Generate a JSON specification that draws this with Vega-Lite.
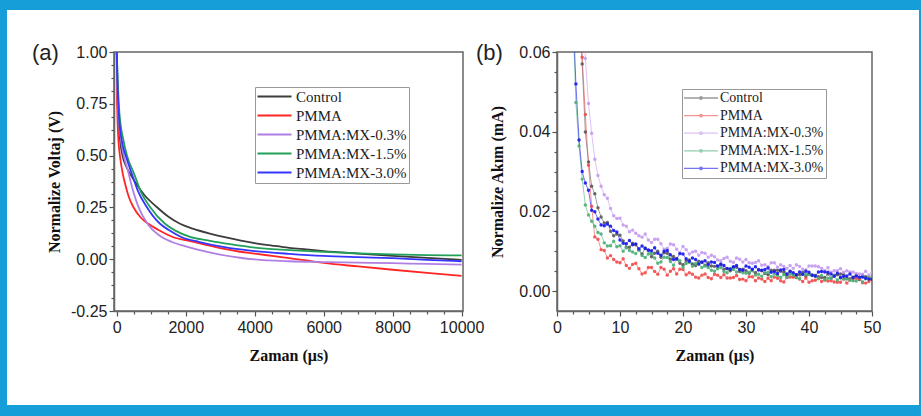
{
"$schema": "https://vega.github.io/schema/vega-lite/v6.json",
"background": "white",
"padding": 0,
"config": {
  "font": "Liberation Sans",
  "axis": {"grid": false, "labelFont": "Liberation Sans", "labelFontSize": 16, "labelColor": "#222", "titleFont": "Liberation Serif", "titleFontSize": 16, "titleFontWeight": "bold", "titleColor": "#111", "tickColor": "#555", "tickWidth": 1.2, "domainColor": "#666", "domainWidth": 1.5, "labelOverlap": false, "labelFlush": false},
  "legend": {"labelFont": "Liberation Serif", "labelColor": "#222", "strokeColor": "#999", "fillColor": "white", "padding": 2, "symbolSize": 100, "title": null}
},
"datasets": {
"a": [
{"s":"C","t":0,"v":1},{"s":"C","t":15,"v":0.8},{"s":"C","t":40,"v":0.7},{"s":"C","t":96,"v":0.574},{"s":"C","t":174,"v":0.494},{"s":"C","t":280,"v":0.445},{"s":"C","t":385,"v":0.413},{"s":"C","t":560,"v":0.365},{"s":"C","t":800,"v":0.31},{"s":"C","t":1160,"v":0.252},{"s":"C","t":1500,"v":0.205},{"s":"C","t":1835,"v":0.171},{"s":"C","t":2200,"v":0.148},{"s":"C","t":2700,"v":0.124},{"s":"C","t":3200,"v":0.104},{"s":"C","t":3600,"v":0.09},{"s":"C","t":4000,"v":0.078},{"s":"C","t":4500,"v":0.066},{"s":"C","t":5000,"v":0.055},{"s":"C","t":5500,"v":0.047},{"s":"C","t":6000,"v":0.039},{"s":"C","t":7000,"v":0.027},{"s":"C","t":8000,"v":0.016},{"s":"C","t":9000,"v":0.006},{"s":"C","t":10000,"v":-0.003},
{"s":"P","t":0,"v":1},{"s":"P","t":10,"v":0.78},{"s":"P","t":25,"v":0.66},{"s":"P","t":48,"v":0.574},{"s":"P","t":96,"v":0.494},{"s":"P","t":174,"v":0.413},{"s":"P","t":240,"v":0.365},{"s":"P","t":350,"v":0.3},{"s":"P","t":481,"v":0.252},{"s":"P","t":700,"v":0.2},{"s":"P","t":916,"v":0.171},{"s":"P","t":1200,"v":0.142},{"s":"P","t":1640,"v":0.106},{"s":"P","t":2000,"v":0.092},{"s":"P","t":2500,"v":0.073},{"s":"P","t":3000,"v":0.053},{"s":"P","t":3574,"v":0.036},{"s":"P","t":4000,"v":0.027},{"s":"P","t":4500,"v":0.016},{"s":"P","t":5000,"v":0.005},{"s":"P","t":5500,"v":-0.006},{"s":"P","t":6000,"v":-0.018},{"s":"P","t":7000,"v":-0.035},{"s":"P","t":8000,"v":-0.051},{"s":"P","t":9000,"v":-0.066},{"s":"P","t":10000,"v":-0.08},
{"s":"M03","t":0,"v":1},{"s":"M03","t":15,"v":0.84},{"s":"M03","t":50,"v":0.7},{"s":"M03","t":125,"v":0.574},{"s":"M03","t":212,"v":0.494},{"s":"M03","t":337,"v":0.42},{"s":"M03","t":405,"v":0.372},{"s":"M03","t":500,"v":0.315},{"s":"M03","t":626,"v":0.254},{"s":"M03","t":887,"v":0.172},{"s":"M03","t":1255,"v":0.112},{"s":"M03","t":1600,"v":0.083},{"s":"M03","t":2000,"v":0.062},{"s":"M03","t":2500,"v":0.04},{"s":"M03","t":3000,"v":0.022},{"s":"M03","t":3574,"v":0.007},{"s":"M03","t":4000,"v":-0.001},{"s":"M03","t":5000,"v":-0.01},{"s":"M03","t":6000,"v":-0.014},{"s":"M03","t":7000,"v":-0.017},{"s":"M03","t":8000,"v":-0.019},{"s":"M03","t":9000,"v":-0.023},{"s":"M03","t":10000,"v":-0.026},
{"s":"M15","t":0,"v":1},{"s":"M15","t":25,"v":0.88},{"s":"M15","t":70,"v":0.72},{"s":"M15","t":193,"v":0.574},{"s":"M15","t":307,"v":0.494},{"s":"M15","t":501,"v":0.413},{"s":"M15","t":700,"v":0.325},{"s":"M15","t":965,"v":0.252},{"s":"M15","t":1400,"v":0.171},{"s":"M15","t":1700,"v":0.138},{"s":"M15","t":2125,"v":0.108},{"s":"M15","t":2600,"v":0.092},{"s":"M15","t":3000,"v":0.08},{"s":"M15","t":3574,"v":0.066},{"s":"M15","t":4000,"v":0.056},{"s":"M15","t":5000,"v":0.044},{"s":"M15","t":6000,"v":0.035},{"s":"M15","t":7000,"v":0.028},{"s":"M15","t":8000,"v":0.023},{"s":"M15","t":9000,"v":0.02},{"s":"M15","t":10000,"v":0.018},
{"s":"M30","t":0,"v":1},{"s":"M30","t":20,"v":0.86},{"s":"M30","t":60,"v":0.7},{"s":"M30","t":145,"v":0.574},{"s":"M30","t":270,"v":0.494},{"s":"M30","t":435,"v":0.413},{"s":"M30","t":600,"v":0.335},{"s":"M30","t":870,"v":0.252},{"s":"M30","t":1255,"v":0.171},{"s":"M30","t":1500,"v":0.142},{"s":"M30","t":1884,"v":0.106},{"s":"M30","t":2400,"v":0.083},{"s":"M30","t":3000,"v":0.062},{"s":"M30","t":3574,"v":0.047},{"s":"M30","t":4000,"v":0.039},{"s":"M30","t":5000,"v":0.026},{"s":"M30","t":6000,"v":0.016},{"s":"M30","t":7000,"v":0.01},{"s":"M30","t":8000,"v":0.005},{"s":"M30","t":9000,"v":-0.003},{"s":"M30","t":10000,"v":-0.01}
],
"b": [
{"s":"C","t":2.5,"v":0.1096},{"s":"C","t":3,"v":0.0893},{"s":"C","t":3.5,"v":0.0746},{"s":"C","t":4,"v":0.057},{"s":"C","t":4.5,"v":0.0399},{"s":"C","t":5,"v":0.0324},{"s":"C","t":5.5,"v":0.0263},{"s":"C","t":6,"v":0.0244},{"s":"C","t":6.5,"v":0.0209},{"s":"C","t":7,"v":0.0186},{"s":"C","t":7.5,"v":0.0171},{"s":"C","t":8,"v":0.0172},
{"s":"C","t":8.5,"v":0.015},{"s":"C","t":9,"v":0.0139},{"s":"C","t":9.5,"v":0.0143},{"s":"C","t":10,"v":0.014},{"s":"C","t":10.5,"v":0.0126},{"s":"C","t":11,"v":0.011},{"s":"C","t":11.5,"v":0.011},{"s":"C","t":12,"v":0.012},{"s":"C","t":12.5,"v":0.0116},{"s":"C","t":13,"v":0.0104},{"s":"C","t":13.5,"v":0.0093},{"s":"C","t":14,"v":0.0108},
{"s":"C","t":14.5,"v":0.0102},{"s":"C","t":15,"v":0.0086},{"s":"C","t":15.5,"v":0.0095},{"s":"C","t":16,"v":0.01},{"s":"C","t":16.5,"v":0.0085},{"s":"C","t":17,"v":0.0096},{"s":"C","t":17.5,"v":0.0095},{"s":"C","t":18,"v":0.008},{"s":"C","t":18.5,"v":0.0087},{"s":"C","t":19,"v":0.008},{"s":"C","t":19.5,"v":0.007},{"s":"C","t":20,"v":0.0066},
{"s":"C","t":20.5,"v":0.0076},{"s":"C","t":21,"v":0.0078},{"s":"C","t":21.5,"v":0.0068},{"s":"C","t":22,"v":0.0064},{"s":"C","t":22.5,"v":0.0075},{"s":"C","t":23,"v":0.0072},{"s":"C","t":23.5,"v":0.0065},{"s":"C","t":24,"v":0.0071},{"s":"C","t":24.5,"v":0.0063},{"s":"C","t":25,"v":0.0062},{"s":"C","t":25.5,"v":0.0062},{"s":"C","t":26,"v":0.0066},
{"s":"C","t":26.5,"v":0.0055},{"s":"C","t":27,"v":0.0056},{"s":"C","t":27.5,"v":0.0051},{"s":"C","t":28,"v":0.006},{"s":"C","t":28.5,"v":0.006},{"s":"C","t":29,"v":0.0049},{"s":"C","t":29.5,"v":0.0055},{"s":"C","t":30,"v":0.0051},{"s":"C","t":30.5,"v":0.0045},{"s":"C","t":31,"v":0.0053},{"s":"C","t":31.5,"v":0.0046},{"s":"C","t":32,"v":0.0054},
{"s":"C","t":32.5,"v":0.0051},{"s":"C","t":33,"v":0.0044},{"s":"C","t":33.5,"v":0.0041},{"s":"C","t":34,"v":0.0052},{"s":"C","t":34.5,"v":0.0052},{"s":"C","t":35,"v":0.0052},{"s":"C","t":35.5,"v":0.005},{"s":"C","t":36,"v":0.0047},{"s":"C","t":36.5,"v":0.004},{"s":"C","t":37,"v":0.0049},{"s":"C","t":37.5,"v":0.0037},{"s":"C","t":38,"v":0.0041},
{"s":"C","t":38.5,"v":0.0041},{"s":"C","t":39,"v":0.0047},{"s":"C","t":39.5,"v":0.0037},{"s":"C","t":40,"v":0.0042},{"s":"C","t":40.5,"v":0.0039},{"s":"C","t":41,"v":0.0039},{"s":"C","t":41.5,"v":0.0036},{"s":"C","t":42,"v":0.0034},{"s":"C","t":42.5,"v":0.0034},{"s":"C","t":43,"v":0.0043},{"s":"C","t":43.5,"v":0.0032},{"s":"C","t":44,"v":0.004},
{"s":"C","t":44.5,"v":0.0041},{"s":"C","t":45,"v":0.0043},{"s":"C","t":45.5,"v":0.0042},{"s":"C","t":46,"v":0.0032},{"s":"C","t":46.5,"v":0.0031},{"s":"C","t":47,"v":0.0035},{"s":"C","t":47.5,"v":0.004},{"s":"C","t":48,"v":0.0029},{"s":"C","t":48.5,"v":0.004},{"s":"C","t":49,"v":0.0036},{"s":"C","t":49.5,"v":0.0035},{"s":"C","t":50,"v":0.0029},
{"s":"P","t":2.5,"v":0.1101},{"s":"P","t":3,"v":0.091},{"s":"P","t":3.5,"v":0.0763},{"s":"P","t":4,"v":0.0587},{"s":"P","t":4.5,"v":0.0443},{"s":"P","t":5,"v":0.0316},{"s":"P","t":5.5,"v":0.0213},{"s":"P","t":6,"v":0.0136},{"s":"P","t":6.5,"v":0.013},{"s":"P","t":7,"v":0.0104},{"s":"P","t":7.5,"v":0.0102},{"s":"P","t":8,"v":0.0083},
{"s":"P","t":8.5,"v":0.0089},{"s":"P","t":9,"v":0.0079},{"s":"P","t":9.5,"v":0.0073},{"s":"P","t":10,"v":0.0071},{"s":"P","t":10.5,"v":0.0081},{"s":"P","t":11,"v":0.0064},{"s":"P","t":11.5,"v":0.0057},{"s":"P","t":12,"v":0.0067},{"s":"P","t":12.5,"v":0.007},{"s":"P","t":13,"v":0.0056},{"s":"P","t":13.5,"v":0.0043},{"s":"P","t":14,"v":0.0046},
{"s":"P","t":14.5,"v":0.0059},{"s":"P","t":15,"v":0.0059},{"s":"P","t":15.5,"v":0.0049},{"s":"P","t":16,"v":0.0042},{"s":"P","t":16.5,"v":0.0059},{"s":"P","t":17,"v":0.0055},{"s":"P","t":17.5,"v":0.004},{"s":"P","t":18,"v":0.005},{"s":"P","t":18.5,"v":0.0056},{"s":"P","t":19,"v":0.0043},{"s":"P","t":19.5,"v":0.0055},{"s":"P","t":20,"v":0.0054},
{"s":"P","t":20.5,"v":0.0041},{"s":"P","t":21,"v":0.0046},{"s":"P","t":21.5,"v":0.0042},{"s":"P","t":22,"v":0.0035},{"s":"P","t":22.5,"v":0.0033},{"s":"P","t":23,"v":0.004},{"s":"P","t":23.5,"v":0.0043},{"s":"P","t":24,"v":0.0034},{"s":"P","t":24.5,"v":0.0031},{"s":"P","t":25,"v":0.0042},{"s":"P","t":25.5,"v":0.004},{"s":"P","t":26,"v":0.0034},
{"s":"P","t":26.5,"v":0.0041},{"s":"P","t":27,"v":0.0033},{"s":"P","t":27.5,"v":0.0033},{"s":"P","t":28,"v":0.0034},{"s":"P","t":28.5,"v":0.0039},{"s":"P","t":29,"v":0.0029},{"s":"P","t":29.5,"v":0.003},{"s":"P","t":30,"v":0.0026},{"s":"P","t":30.5,"v":0.0036},{"s":"P","t":31,"v":0.0036},{"s":"P","t":31.5,"v":0.0026},{"s":"P","t":32,"v":0.0033},
{"s":"P","t":32.5,"v":0.003},{"s":"P","t":33,"v":0.0024},{"s":"P","t":33.5,"v":0.0032},{"s":"P","t":34,"v":0.0026},{"s":"P","t":34.5,"v":0.0035},{"s":"P","t":35,"v":0.0032},{"s":"P","t":35.5,"v":0.0026},{"s":"P","t":36,"v":0.0023},{"s":"P","t":36.5,"v":0.0034},{"s":"P","t":37,"v":0.0035},{"s":"P","t":37.5,"v":0.0035},{"s":"P","t":38,"v":0.0034},
{"s":"P","t":38.5,"v":0.003},{"s":"P","t":39,"v":0.0024},{"s":"P","t":39.5,"v":0.0033},{"s":"P","t":40,"v":0.0022},{"s":"P","t":40.5,"v":0.0026},{"s":"P","t":41,"v":0.0027},{"s":"P","t":41.5,"v":0.0033},{"s":"P","t":42,"v":0.0024},{"s":"P","t":42.5,"v":0.0028},{"s":"P","t":43,"v":0.0025},{"s":"P","t":43.5,"v":0.0026},{"s":"P","t":44,"v":0.0023},
{"s":"P","t":44.5,"v":0.0022},{"s":"P","t":45,"v":0.0022},{"s":"P","t":45.5,"v":0.0031},{"s":"P","t":46,"v":0.002},{"s":"P","t":46.5,"v":0.0028},{"s":"P","t":47,"v":0.003},{"s":"P","t":47.5,"v":0.0032},{"s":"P","t":48,"v":0.0031},{"s":"P","t":48.5,"v":0.0021},{"s":"P","t":49,"v":0.002},{"s":"P","t":49.5,"v":0.0024},{"s":"P","t":50,"v":0.003},
{"s":"M03","t":2.5,"v":0.129},{"s":"M03","t":3,"v":0.1101},{"s":"M03","t":3.5,"v":0.0963},{"s":"M03","t":4,"v":0.0743},{"s":"M03","t":4.5,"v":0.0584},{"s":"M03","t":5,"v":0.0471},{"s":"M03","t":5.5,"v":0.0396},{"s":"M03","t":6,"v":0.0331},{"s":"M03","t":6.5,"v":0.029},{"s":"M03","t":7,"v":0.0263},{"s":"M03","t":7.5,"v":0.0242},{"s":"M03","t":8,"v":0.0233},
{"s":"M03","t":8.5,"v":0.0207},{"s":"M03","t":9,"v":0.0189},{"s":"M03","t":9.5,"v":0.0182},{"s":"M03","t":10,"v":0.0183},{"s":"M03","t":10.5,"v":0.0166},{"s":"M03","t":11,"v":0.0163},{"s":"M03","t":11.5,"v":0.0149},{"s":"M03","t":12,"v":0.0153},{"s":"M03","t":12.5,"v":0.0145},{"s":"M03","t":13,"v":0.0139},{"s":"M03","t":13.5,"v":0.0135},{"s":"M03","t":14,"v":0.0143},
{"s":"M03","t":14.5,"v":0.0128},{"s":"M03","t":15,"v":0.0122},{"s":"M03","t":15.5,"v":0.013},{"s":"M03","t":16,"v":0.013},{"s":"M03","t":16.5,"v":0.0119},{"s":"M03","t":17,"v":0.0105},{"s":"M03","t":17.5,"v":0.0107},{"s":"M03","t":18,"v":0.0118},{"s":"M03","t":18.5,"v":0.0116},{"s":"M03","t":19,"v":0.0105},{"s":"M03","t":19.5,"v":0.0096},{"s":"M03","t":20,"v":0.0112},
{"s":"M03","t":20.5,"v":0.0104},{"s":"M03","t":21,"v":0.0093},{"s":"M03","t":21.5,"v":0.0098},{"s":"M03","t":22,"v":0.01},{"s":"M03","t":22.5,"v":0.009},{"s":"M03","t":23,"v":0.0097},{"s":"M03","t":23.5,"v":0.0095},{"s":"M03","t":24,"v":0.0085},{"s":"M03","t":24.5,"v":0.009},{"s":"M03","t":25,"v":0.0086},{"s":"M03","t":25.5,"v":0.0078},{"s":"M03","t":26,"v":0.0076},
{"s":"M03","t":26.5,"v":0.0082},{"s":"M03","t":27,"v":0.0085},{"s":"M03","t":27.5,"v":0.0075},{"s":"M03","t":28,"v":0.0072},{"s":"M03","t":28.5,"v":0.0083},{"s":"M03","t":29,"v":0.008},{"s":"M03","t":29.5,"v":0.0073},{"s":"M03","t":30,"v":0.0079},{"s":"M03","t":30.5,"v":0.0071},{"s":"M03","t":31,"v":0.007},{"s":"M03","t":31.5,"v":0.0072},{"s":"M03","t":32,"v":0.0076},
{"s":"M03","t":32.5,"v":0.0065},{"s":"M03","t":33,"v":0.0066},{"s":"M03","t":33.5,"v":0.0061},{"s":"M03","t":34,"v":0.0071},{"s":"M03","t":34.5,"v":0.0071},{"s":"M03","t":35,"v":0.006},{"s":"M03","t":35.5,"v":0.0066},{"s":"M03","t":36,"v":0.0062},{"s":"M03","t":36.5,"v":0.0057},{"s":"M03","t":37,"v":0.0064},{"s":"M03","t":37.5,"v":0.0057},{"s":"M03","t":38,"v":0.0066},
{"s":"M03","t":38.5,"v":0.0062},{"s":"M03","t":39,"v":0.0055},{"s":"M03","t":39.5,"v":0.0053},{"s":"M03","t":40,"v":0.0063},{"s":"M03","t":40.5,"v":0.0063},{"s":"M03","t":41,"v":0.0063},{"s":"M03","t":41.5,"v":0.0061},{"s":"M03","t":42,"v":0.0057},{"s":"M03","t":42.5,"v":0.0051},{"s":"M03","t":43,"v":0.0059},{"s":"M03","t":43.5,"v":0.0047},{"s":"M03","t":44,"v":0.0051},
{"s":"M03","t":44.5,"v":0.0051},{"s":"M03","t":45,"v":0.0056},{"s":"M03","t":45.5,"v":0.0047},{"s":"M03","t":46,"v":0.0051},{"s":"M03","t":46.5,"v":0.0048},{"s":"M03","t":47,"v":0.0048},{"s":"M03","t":47.5,"v":0.0044},{"s":"M03","t":48,"v":0.0043},{"s":"M03","t":48.5,"v":0.0042},{"s":"M03","t":49,"v":0.005},{"s":"M03","t":49.5,"v":0.004},{"s":"M03","t":50,"v":0.0047},
{"s":"M15","t":2.5,"v":0.0713},{"s":"M15","t":3,"v":0.0473},{"s":"M15","t":3.5,"v":0.0364},{"s":"M15","t":4,"v":0.0281},{"s":"M15","t":4.5,"v":0.0216},{"s":"M15","t":5,"v":0.0191},{"s":"M15","t":5.5,"v":0.0175},{"s":"M15","t":6,"v":0.0163},{"s":"M15","t":6.5,"v":0.0147},{"s":"M15","t":7,"v":0.0143},{"s":"M15","t":7.5,"v":0.0121},{"s":"M15","t":8,"v":0.0113},
{"s":"M15","t":8.5,"v":0.0114},{"s":"M15","t":9,"v":0.0125},{"s":"M15","t":9.5,"v":0.0111},{"s":"M15","t":10,"v":0.0114},{"s":"M15","t":10.5,"v":0.01},{"s":"M15","t":11,"v":0.0109},{"s":"M15","t":11.5,"v":0.0102},{"s":"M15","t":12,"v":0.0098},{"s":"M15","t":12.5,"v":0.0094},{"s":"M15","t":13,"v":0.0103},{"s":"M15","t":13.5,"v":0.0089},{"s":"M15","t":14,"v":0.0084},
{"s":"M15","t":14.5,"v":0.0093},{"s":"M15","t":15,"v":0.0095},{"s":"M15","t":15.5,"v":0.0083},{"s":"M15","t":16,"v":0.007},{"s":"M15","t":16.5,"v":0.0073},{"s":"M15","t":17,"v":0.0085},{"s":"M15","t":17.5,"v":0.0084},{"s":"M15","t":18,"v":0.0074},{"s":"M15","t":18.5,"v":0.0065},{"s":"M15","t":19,"v":0.0081},{"s":"M15","t":19.5,"v":0.0076},{"s":"M15","t":20,"v":0.006},
{"s":"M15","t":20.5,"v":0.0069},{"s":"M15","t":21,"v":0.0072},{"s":"M15","t":21.5,"v":0.0062},{"s":"M15","t":22,"v":0.0069},{"s":"M15","t":22.5,"v":0.0068},{"s":"M15","t":23,"v":0.0059},{"s":"M15","t":23.5,"v":0.0063},{"s":"M15","t":24,"v":0.0059},{"s":"M15","t":24.5,"v":0.0052},{"s":"M15","t":25,"v":0.005},{"s":"M15","t":25.5,"v":0.0056},{"s":"M15","t":26,"v":0.0059},
{"s":"M15","t":26.5,"v":0.0049},{"s":"M15","t":27,"v":0.0046},{"s":"M15","t":27.5,"v":0.0057},{"s":"M15","t":28,"v":0.0054},{"s":"M15","t":28.5,"v":0.0048},{"s":"M15","t":29,"v":0.0054},{"s":"M15","t":29.5,"v":0.0046},{"s":"M15","t":30,"v":0.0045},{"s":"M15","t":30.5,"v":0.0047},{"s":"M15","t":31,"v":0.0051},{"s":"M15","t":31.5,"v":0.004},{"s":"M15","t":32,"v":0.0042},
{"s":"M15","t":32.5,"v":0.0037},{"s":"M15","t":33,"v":0.0046},{"s":"M15","t":33.5,"v":0.0047},{"s":"M15","t":34,"v":0.0036},{"s":"M15","t":34.5,"v":0.0043},{"s":"M15","t":35,"v":0.0039},{"s":"M15","t":35.5,"v":0.0034},{"s":"M15","t":36,"v":0.0041},{"s":"M15","t":36.5,"v":0.0035},{"s":"M15","t":37,"v":0.0043},{"s":"M15","t":37.5,"v":0.004},{"s":"M15","t":38,"v":0.0034},
{"s":"M15","t":38.5,"v":0.0031},{"s":"M15","t":39,"v":0.0042},{"s":"M15","t":39.5,"v":0.0042},{"s":"M15","t":40,"v":0.0042},{"s":"M15","t":40.5,"v":0.0041},{"s":"M15","t":41,"v":0.0037},{"s":"M15","t":41.5,"v":0.0031},{"s":"M15","t":42,"v":0.0039},{"s":"M15","t":42.5,"v":0.0028},{"s":"M15","t":43,"v":0.0032},{"s":"M15","t":43.5,"v":0.0032},{"s":"M15","t":44,"v":0.0038},
{"s":"M15","t":44.5,"v":0.0028},{"s":"M15","t":45,"v":0.0033},{"s":"M15","t":45.5,"v":0.003},{"s":"M15","t":46,"v":0.003},{"s":"M15","t":46.5,"v":0.0027},{"s":"M15","t":47,"v":0.0026},{"s":"M15","t":47.5,"v":0.0025},{"s":"M15","t":48,"v":0.0034},{"s":"M15","t":48.5,"v":0.0023},{"s":"M15","t":49,"v":0.0031},{"s":"M15","t":49.5,"v":0.0032},{"s":"M15","t":50,"v":0.0034},
{"s":"M30","t":2.5,"v":0.0716},{"s":"M30","t":3,"v":0.052},{"s":"M30","t":3.5,"v":0.0379},{"s":"M30","t":4,"v":0.03},{"s":"M30","t":4.5,"v":0.0271},{"s":"M30","t":5,"v":0.0253},{"s":"M30","t":5.5,"v":0.0203},{"s":"M30","t":6,"v":0.0199},{"s":"M30","t":6.5,"v":0.0181},{"s":"M30","t":7,"v":0.0166},{"s":"M30","t":7.5,"v":0.0164},{"s":"M30","t":8,"v":0.0168},
{"s":"M30","t":8.5,"v":0.0163},{"s":"M30","t":9,"v":0.0152},{"s":"M30","t":9.5,"v":0.0148},{"s":"M30","t":10,"v":0.0128},{"s":"M30","t":10.5,"v":0.012},{"s":"M30","t":11,"v":0.0119},{"s":"M30","t":11.5,"v":0.0127},{"s":"M30","t":12,"v":0.0116},{"s":"M30","t":12.5,"v":0.0118},{"s":"M30","t":13,"v":0.0106},{"s":"M30","t":13.5,"v":0.0113},{"s":"M30","t":14,"v":0.0107},
{"s":"M30","t":14.5,"v":0.0103},{"s":"M30","t":15,"v":0.0101},{"s":"M30","t":15.5,"v":0.0109},{"s":"M30","t":16,"v":0.0095},{"s":"M30","t":16.5,"v":0.009},{"s":"M30","t":17,"v":0.01},{"s":"M30","t":17.5,"v":0.0102},{"s":"M30","t":18,"v":0.0091},{"s":"M30","t":18.5,"v":0.0079},{"s":"M30","t":19,"v":0.0081},{"s":"M30","t":19.5,"v":0.0094},{"s":"M30","t":20,"v":0.0093},
{"s":"M30","t":20.5,"v":0.0081},{"s":"M30","t":21,"v":0.0075},{"s":"M30","t":21.5,"v":0.0083},{"s":"M30","t":22,"v":0.0079},{"s":"M30","t":22.5,"v":0.0068},{"s":"M30","t":23,"v":0.0073},{"s":"M30","t":23.5,"v":0.0076},{"s":"M30","t":24,"v":0.0066},{"s":"M30","t":24.5,"v":0.0073},{"s":"M30","t":25,"v":0.0072},{"s":"M30","t":25.5,"v":0.0063},{"s":"M30","t":26,"v":0.0068},
{"s":"M30","t":26.5,"v":0.0064},{"s":"M30","t":27,"v":0.0057},{"s":"M30","t":27.5,"v":0.0055},{"s":"M30","t":28,"v":0.0061},{"s":"M30","t":28.5,"v":0.0064},{"s":"M30","t":29,"v":0.0054},{"s":"M30","t":29.5,"v":0.0052},{"s":"M30","t":30,"v":0.0063},{"s":"M30","t":30.5,"v":0.006},{"s":"M30","t":31,"v":0.0055},{"s":"M30","t":31.5,"v":0.0061},{"s":"M30","t":32,"v":0.0053},
{"s":"M30","t":32.5,"v":0.0052},{"s":"M30","t":33,"v":0.0054},{"s":"M30","t":33.5,"v":0.0058},{"s":"M30","t":34,"v":0.0047},{"s":"M30","t":34.5,"v":0.0049},{"s":"M30","t":35,"v":0.0044},{"s":"M30","t":35.5,"v":0.0053},{"s":"M30","t":36,"v":0.0054},{"s":"M30","t":36.5,"v":0.0043},{"s":"M30","t":37,"v":0.005},{"s":"M30","t":37.5,"v":0.0046},{"s":"M30","t":38,"v":0.0041},
{"s":"M30","t":38.5,"v":0.0048},{"s":"M30","t":39,"v":0.0042},{"s":"M30","t":39.5,"v":0.005},{"s":"M30","t":40,"v":0.0047},{"s":"M30","t":40.5,"v":0.004},{"s":"M30","t":41,"v":0.0038},{"s":"M30","t":41.5,"v":0.0048},{"s":"M30","t":42,"v":0.0049},{"s":"M30","t":42.5,"v":0.0048},{"s":"M30","t":43,"v":0.0047},{"s":"M30","t":43.5,"v":0.0043},{"s":"M30","t":44,"v":0.0037},
{"s":"M30","t":44.5,"v":0.0045},{"s":"M30","t":45,"v":0.0034},{"s":"M30","t":45.5,"v":0.0037},{"s":"M30","t":46,"v":0.0038},{"s":"M30","t":46.5,"v":0.0043},{"s":"M30","t":47,"v":0.0034},{"s":"M30","t":47.5,"v":0.0038},{"s":"M30","t":48,"v":0.0035},{"s":"M30","t":48.5,"v":0.0035},{"s":"M30","t":49,"v":0.0032},{"s":"M30","t":49.5,"v":0.003},{"s":"M30","t":50,"v":0.003}
]
},
"bounds": "full",
"spacing": 0,
"resolve": {"scale": {"color": "independent"}, "legend": {"color": "independent"}},
"hconcat": [
  {"width": 7, "height": 416, "view": {"fill": "#169ed8", "stroke": null}, "data": {"values": []}, "mark": "point"},
  {
    "bounds": "flush",
    "spacing": 42,
    "resolve": {"scale": {"color": "independent"}, "legend": {"color": "independent"}},
    "vconcat": [
      {"width": 912, "height": 10, "view": {"fill": "#169ed8", "stroke": null}, "data": {"values": []}, "mark": "point"},
      {
        "bounds": "flush",
        "spacing": 94,
        "resolve": {"scale": {"color": "independent"}, "legend": {"color": "independent"}},
        "hconcat": [
          {"width": 13, "height": 1, "view": {"stroke": null}, "data": {"values": []}, "mark": "point"},
          {
            "width": 349, "height": 259,
            "title": {"text": "(a)", "anchor": "start", "frame": "group", "orient": "top", "offset": 0, "baseline": "alphabetic", "dx": -82, "dy": 38, "font": "Liberation Sans", "fontSize": 22, "fontWeight": "normal", "color": "#222"},
            "view": {"fill": "white", "stroke": "#666", "strokeWidth": 1.5},
            "data": {"name": "a"},
            "mark": {"type": "line", "strokeWidth": 1.8, "interpolate": "monotone", "clip": true},
            "encoding": {
              "x": {"field": "t", "type": "quantitative", "scale": {"domain": [-80, 10040], "nice": false, "zero": false},
                "axis": {"title": "Zaman (μs)", "values": [0,500,1000,1500,2000,2500,3000,3500,4000,4500,5000,5500,6000,6500,7000,7500,8000,8500,9000,9500,10000], "format": "d", "labelExpr": "datum.value % 2000 === 0 ? datum.label : ''", "tickSize": {"condition": {"test": "datum.value % 2000 === 0", "value": 5}, "value": 3}, "labelPadding": 3, "titlePadding": 12}},
              "y": {"field": "v", "type": "quantitative", "scale": {"domain": [-0.25, 1], "nice": false, "zero": false},
                "axis": {"title": "Normalize Voltaj (V)", "values": [-0.25,-0.1875,-0.125,-0.0625,0,0.0625,0.125,0.1875,0.25,0.3125,0.375,0.4375,0.5,0.5625,0.625,0.6875,0.75,0.8125,0.875,0.9375,1], "format": ".2f", "labelExpr": "abs(datum.value*4 - round(datum.value*4)) < 1e-6 ? replace(datum.label, '−', '-') : ''", "tickSize": {"condition": {"test": "abs(datum.value*4 - round(datum.value*4)) < 1e-6", "value": 5}, "value": 3}, "labelPadding": 2, "titlePadding": 8}},
              "color": {"field": "s", "type": "nominal",
                "scale": {"domain": ["C","P","M03","M15","M30"], "range": ["#3d3d3d","#ff2525","#b07fe4","#22a05a","#3535ff"]},
                "legend": {"orient": "none", "legendX": 141, "legendY": 35, "symbolType": "M-1.4,0H5.4", "symbolStrokeWidth": 2, "labelFontSize": 15, "labelOffset": 24, "rowPadding": 3,
                  "labelExpr": "datum.value === 'C' ? 'Control' : datum.value === 'P' ? 'PMMA' : datum.value === 'M03' ? 'PMMA:MX-0.3%' : datum.value === 'M15' ? 'PMMA:MX-1.5%' : 'PMMA:MX-3.0%'"}}
            }
          },
          {
            "width": 315, "height": 259,
            "title": {"text": "(b)", "anchor": "start", "frame": "group", "orient": "top", "offset": 0, "baseline": "alphabetic", "dx": -81, "dy": 38, "font": "Liberation Sans", "fontSize": 22, "fontWeight": "normal", "color": "#222"},
            "view": {"fill": "white", "stroke": "#666", "strokeWidth": 1.5},
            "data": {"name": "b"},
            "encoding": {
              "x": {"field": "t", "type": "quantitative", "scale": {"domain": [0, 50], "nice": false, "zero": false},
                "axis": {"title": "Zaman (μs)", "values": [0,2.5,5,7.5,10,12.5,15,17.5,20,22.5,25,27.5,30,32.5,35,37.5,40,42.5,45,47.5,50], "format": "d", "labelExpr": "datum.value % 10 === 0 ? datum.label : ''", "tickSize": {"condition": {"test": "datum.value % 10 === 0", "value": 5}, "value": 3}, "labelPadding": 3, "titlePadding": 12}},
              "y": {"field": "v", "type": "quantitative", "scale": {"domain": [-0.005, 0.06], "nice": false, "zero": false},
                "axis": {"title": "Normalize Akım (mA)", "values": [0,0.005,0.01,0.015,0.02,0.025,0.03,0.035,0.04,0.045,0.05,0.055,0.06], "format": ".2f", "labelExpr": "abs(datum.value*50 - round(datum.value*50)) < 1e-6 ? datum.label : ''", "tickSize": {"condition": {"test": "abs(datum.value*50 - round(datum.value*50)) < 1e-6", "value": 5}, "value": 3}, "labelPadding": 2, "titlePadding": 13}},
              "color": {"field": "s", "type": "nominal",
                "scale": {"domain": ["C","P","M03","M15","M30"], "range": ["#5a5a5a","#f24c4c","#c49af0","#4caf78","#1818f0"]},
                "legend": {"orient": "none", "legendX": 125, "legendY": 37, "symbolType": "M-1.4,0H5.4M2.25,0A0.25,0.25,0,1,1,1.75,0A0.25,0.25,0,1,1,2.25,0", "symbolStrokeWidth": 1.3, "labelFontSize": 14, "labelOffset": 22, "rowPadding": 3.6,
                  "labelExpr": "datum.value === 'C' ? 'Control' : datum.value === 'P' ? 'PMMA' : datum.value === 'M03' ? 'PMMA:MX-0.3%' : datum.value === 'M15' ? 'PMMA:MX-1.5%' : 'PMMA:MX-3.0%'"}}
            },
            "layer": [
              {"mark": {"type": "line", "strokeWidth": 1, "opacity": 0.6, "clip": true}},
              {"mark": {"type": "circle", "size": 12, "opacity": 0.9, "clip": true}}
            ]
          }
        ]
      },
      {"width": 1, "height": 269, "view": {"stroke": null}, "data": {"values": []}, "mark": "point"},
      {"width": 912, "height": 11, "view": {"fill": "#169ed8", "stroke": null}, "data": {"values": []}, "mark": "point"}
    ]
  },
  {"width": 2, "height": 416, "view": {"fill": "#169ed8", "stroke": null}, "data": {"values": []}, "mark": "point"}
]
}
